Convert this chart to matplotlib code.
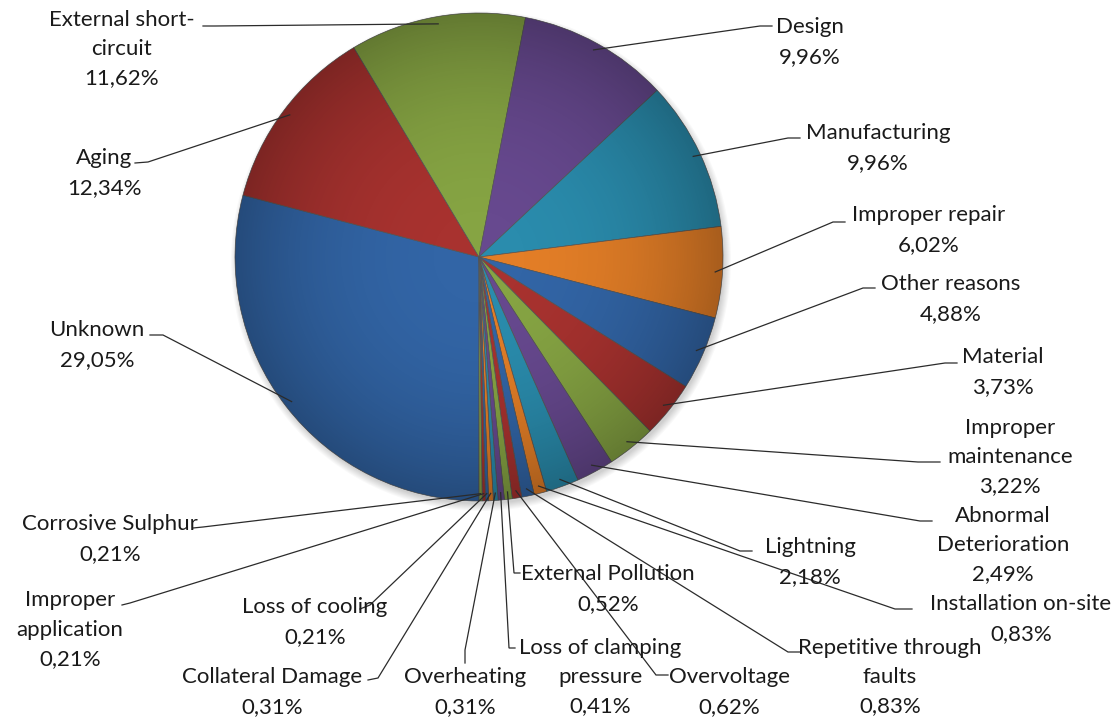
import numpy as np
import matplotlib
matplotlib.use("Agg")
import matplotlib.pyplot as plt
from matplotlib.patches import Circle

plt.rcParams['font.family'] = ['Lato', 'DejaVu Sans']

# failure causes, in drawing order (clockwise from the bottom)
causes = ["Unknown", "Aging", "External short-\ncircuit", "Design", "Manufacturing",
          "Improper repair", "Other reasons", "Material", "Improper\nmaintenance",
          "Abnormal\nDeterioration", "Lightning", "Installation on-site",
          "Repetitive through\nfaults", "Overvoltage", "External Pollution",
          "Loss of clamping\npressure", "Overheating", "Collateral Damage",
          "Loss of cooling", "Improper\napplication", "Corrosive Sulphur"]
shares = [29.05, 12.34, 11.62, 9.96, 9.96, 6.02, 4.88, 3.73, 3.22, 2.49, 2.18,
          0.83, 0.83, 0.62, 0.52, 0.41, 0.31, 0.31, 0.21, 0.21, 0.21]

palette = ['#3265A6', '#A8322F', '#86A443', '#67498F', '#2A8CAD', '#E37E27']
colors = [palette[i % len(palette)] for i in range(len(shares))]

# label block centre, leader start and elbow (pixels, y downwards)
label_pos = [(97, 343), (104, 171), (122, 47), (810, 40), (878, 146),
             (929, 228), (951, 297), (1003, 370), (1010, 455), (1003, 543),
             (810, 560), (1021, 617), (890, 675), (729, 690), (608, 587),
             (600, 675), (465, 690), (272, 690), (315, 620), (70, 628),
             (110, 537)]
leader_start = [(150, 335), (135, 163), (203, 26), (772, 26), (800, 138),
                (845, 222), (875, 288), (957, 363), (940, 462), (932, 521),
                (752, 551), (912, 609), (800, 652), (668, 675), (520, 573),
                (515, 648), (465, 663), (368, 680), (360, 609), (122, 605),
                (193, 528)]
leader_elbow = [(163, 335), (148, 162), (215, 26), (760, 26), (788, 138),
                (833, 222), (863, 288), (945, 363), (918, 462), (920, 521),
                (740, 551), (895, 609), (788, 652), (656, 675), (514, 573),
                (509, 648), (465, 650), (378, 678), (370, 605), (130, 603),
                (203, 527)]

W, H = 1120, 720
cx, cy, R = 479, 257, 244
line_step = 29.5

fig = plt.figure(figsize=(11.2, 7.2), dpi=100)
ax = fig.add_axes([0, 0, 1, 1])


def py(y):
    return H - y


# soft shadow under the pie
for k in range(8):
    ax.add_patch(Circle((cx + 2, py(cy) - 4), R + 6 - k, color='black',
                        alpha=0.025, lw=0, zorder=1))

wedges, _ = ax.pie(shares, colors=colors, startangle=-90, counterclock=False,
                   center=(cx, py(cy)), radius=R, frame=True,
                   wedgeprops=dict(edgecolor='#555555', linewidth=0.5))
for w in wedges:
    w.set_zorder(2)

# radial shading over the pie
n = 400
gx, gy = np.meshgrid(np.linspace(-1, 1, n), np.linspace(-1, 1, n))
rr = np.clip(np.hypot(gx, gy), 0, 1)
shade = np.zeros((n, n, 4))
shade[..., 3] = 0.26 * rr ** 2.5
img = ax.imshow(shade, extent=(cx - R, cx + R, py(cy) - R, py(cy) + R),
                zorder=3, interpolation='bilinear')
img.set_clip_path(Circle((cx, py(cy)), R, transform=ax.transData))

for w, name, val, (tx, ty), (sx, sy), (ex, ey) in zip(
        wedges, causes, shares, label_pos, leader_start, leader_elbow):
    mid = np.deg2rad((w.theta1 + w.theta2) / 2)
    px = cx + 0.97 * R * np.cos(mid)
    pyy = py(cy) + 0.97 * R * np.sin(mid)
    ax.plot([sx, ex, px], [py(sy), py(ey), pyy], color='#2b2b2b', lw=0.9,
            zorder=4, solid_joinstyle='miter')
    lines = name.split("\n") + [f"{val:.2f}".replace('.', ',') + "%"]
    for i, line in enumerate(lines):
        off = (i - (len(lines) - 1) / 2) * line_step
        ax.text(tx, py(ty + off), line, ha='center', va='center_baseline',
                fontsize=16, color='#1a1a1a', zorder=5)

ax.set_xlim(0, W)
ax.set_ylim(0, H)
ax.set_aspect('equal')
ax.axis('off')

fig.savefig("out.png", dpi=100)
